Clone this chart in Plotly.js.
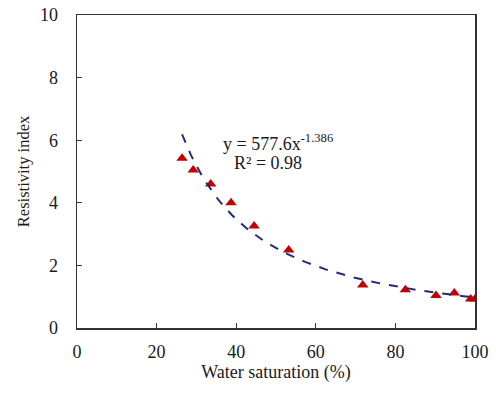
<!DOCTYPE html>
<html>
<head>
<meta charset="utf-8">
<script src="https://cdn.plot.ly/plotly-3.0.1.min.js"></script>
<style>html,body{margin:0;padding:0;background:#fff;}#chart{width:496px;height:394px;}</style>
</head>
<body>
<div id="chart"></div>
<script>
var waterSaturation = [26.4, 29.2, 33.6, 38.7, 44.5, 53.2, 71.8, 82.5, 90.2, 94.8, 98.9, 100];
var resistivityIndex = [5.42, 5.05, 4.6, 4.0, 3.26, 2.49, 1.37, 1.22, 1.04, 1.12, 0.93, 0.93];

// Power-law trendline as printed on the chart: y = a * x^b
var fitA = 577.6;
var fitB = -1.386;
var fitXStart = 26.4;
var fitXEnd = 100;

var xTicks = [0, 20, 40, 60, 80, 100];
var yTicks = [0, 2, 4, 6, 8, 10];

var fitX = [], fitY = [];
for (var i = 0; i <= 100; i++) {
  var x = fitXStart + (fitXEnd - fitXStart) * i / 100;
  fitX.push(x);
  fitY.push(fitA * Math.pow(x, fitB));
}

var font = 'Liberation Serif, Times New Roman, serif';
var txt = '#1a1a1a';

var traces = [
  {
    x: waterSaturation, y: resistivityIndex, type: 'scatter', mode: 'markers',
    marker: {symbol: 'triangle-up', size: 10, color: '#c00000'},
    showlegend: false
  },
  {
    x: fitX, y: fitY, type: 'scatter', mode: 'lines',
    line: {color: '#1f2d78', width: 2, dash: 'dash'},
    showlegend: false
  }
];

var layout = {
  width: 496, height: 394,
  margin: {l: 77, r: 21, t: 15, b: 66},
  paper_bgcolor: '#fff', plot_bgcolor: '#fff',
  font: {family: font, size: 18, color: txt},
  xaxis: {
    range: [0, 100], tickvals: xTicks, ticks: 'inside', ticklen: 5, tickwidth: 1.3,
    tickcolor: '#333', showgrid: false, zeroline: false,
    showline: true, linecolor: '#333', linewidth: 1.5, mirror: true,
    ticklabelstandoff: 7,
    tickfont: {family: font, size: 18, color: txt},
    title: {text: 'Water saturation (%)', font: {family: font, size: 18, color: txt}, standoff: 4}
  },
  yaxis: {
    range: [0, 10], tickvals: yTicks, ticks: 'inside', ticklen: 5, tickwidth: 1.3,
    tickcolor: '#333', showgrid: false, zeroline: false,
    showline: true, linecolor: '#333', linewidth: 1.5, mirror: true,
    ticklabelstandoff: 14,
    tickfont: {family: font, size: 18, color: txt},
    title: {text: 'Resistivity index', font: {family: font, size: 16.5, color: txt}, standoff: 6}
  },
  annotations: [
    {x: 50.5, y: 5.94, xref: 'x', yref: 'y', showarrow: false,
     text: 'y = 577.6x<sup>-1.386</sup>', font: {family: font, size: 18, color: txt}},
    {x: 48, y: 5.27, xref: 'x', yref: 'y', showarrow: false,
     text: 'R² = 0.98', font: {family: font, size: 18, color: txt}}
  ]
};

Plotly.newPlot('chart', traces, layout, {staticPlot: true, displayModeBar: false});
</script>
</body>
</html>
